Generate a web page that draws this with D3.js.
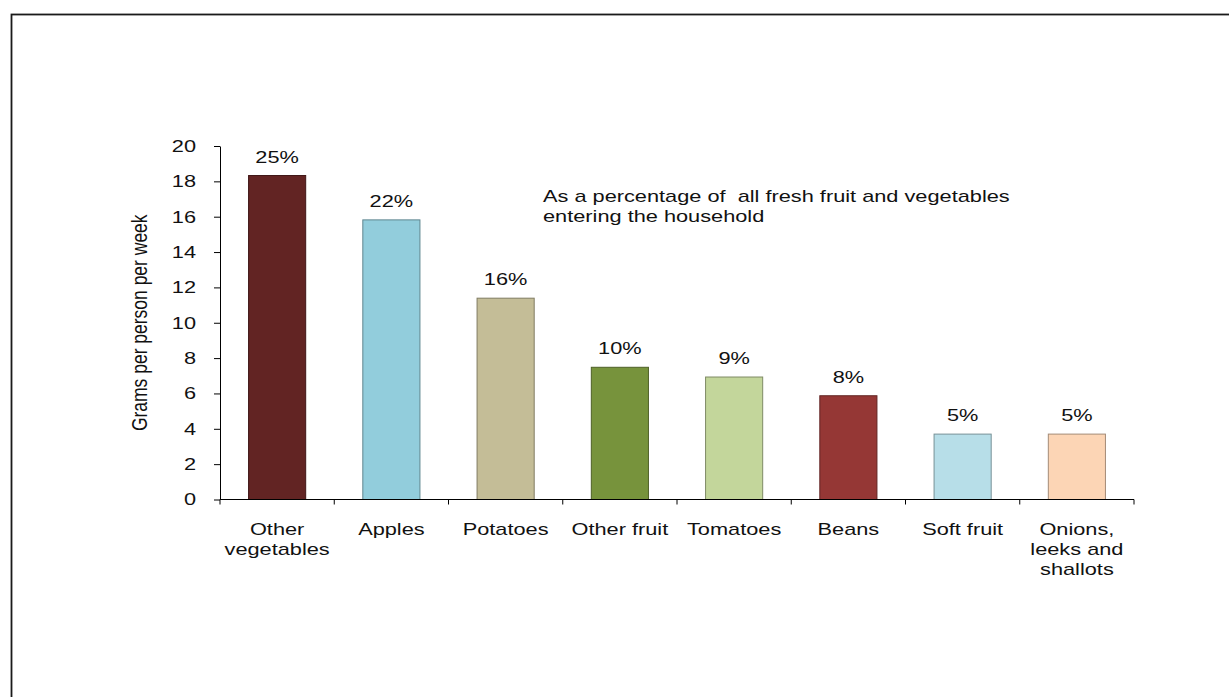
<!DOCTYPE html>
<html>
<head>
<meta charset="utf-8">
<script src="https://cdn.jsdelivr.net/npm/d3@7"></script>
<style>
  body { margin: 0; background: #fff; }
  svg { display: block; font-family: Arial, "Liberation Sans", sans-serif; }
</style>
</head>
<body>
<svg id="chart" width="1229" height="697"></svg>
<script>
// chart data
var categories = ["Other vegetables", "Apples", "Potatoes", "Other fruit", "Tomatoes", "Beans", "Soft fruit", "Onions, leeks and shallots"];
var grams = [18.33, 15.82, 11.39, 7.48, 6.93, 5.87, 3.70, 3.70];
var shares = ["25%", "22%", "16%", "10%", "9%", "8%", "5%", "5%"];
var yTicks = [0, 2, 4, 6, 8, 10, 12, 14, 16, 18, 20];

// label lines for categories
var catLines = {
    "Other vegetables": ["Other", "vegetables"],
    "Onions, leeks and shallots": ["Onions,", "leeks and", "shallots"]
};

var barColors = ["#622423", "#92CDDC", "#C4BD97", "#77933C", "#C3D69B", "#953735", "#B7DEE8", "#FCD5B5"];

// text in the original is stretched sideways
var stretch = "scale(1.28,1)";
var fontSize = "17px";

var svg = d3.select("#chart");

// outer frame
svg.append("rect")
    .attr("x", 11.5)
    .attr("y", 14.5)
    .attr("width", 1240)
    .attr("height", 700)
    .attr("fill", "none")
    .attr("stroke", "#1a1a1a")
    .attr("stroke-width", 1.8);

var plotLeft = 220, plotRight = 1134, plotTop = 146, plotBottom = 499.5;

var x = d3.scaleBand()
    .domain(categories)
    .range([plotLeft, plotRight])
    .paddingInner(0.5)
    .paddingOuter(0.25);

var y = d3.scaleLinear()
    .domain([0, 20])
    .range([plotBottom, plotTop]);

// bars
svg.selectAll("rect.bar")
    .data(categories)
    .enter()
    .append("rect")
    .attr("class", "bar")
    .attr("x", function (d) { return x(d); })
    .attr("y", function (d, i) { return y(grams[i]); })
    .attr("width", x.bandwidth())
    .attr("height", function (d, i) { return y(0) - y(grams[i]); })
    .attr("fill", function (d, i) { return barColors[i]; })
    .attr("stroke", function (d, i) { return d3.color(barColors[i]).darker(1.2); })
    .attr("stroke-width", 1);

// percentage labels
svg.selectAll("text.pct")
    .data(categories)
    .enter()
    .append("text")
    .attr("class", "pct")
    .attr("transform", function (d, i) {
        return "translate(" + (x(d) + x.bandwidth() / 2) + "," + (y(grams[i]) - 13) + ") " + stretch;
    })
    .attr("text-anchor", "middle")
    .style("font-size", fontSize)
    .style("fill", "#111")
    .text(function (d, i) { return shares[i]; });

// y axis
var yAxis = svg.append("g")
    .attr("transform", "translate(" + plotLeft + ",0)")
    .call(d3.axisLeft(y).tickValues(yTicks).tickSize(6).tickSizeOuter(0));
yAxis.select(".domain").attr("stroke", "#000");
yAxis.selectAll(".tick line").attr("stroke", "#000");
yAxis.selectAll(".tick text")
    .attr("x", 0)
    .attr("transform", "translate(-24,0) " + stretch)
    .style("font-size", fontSize)
    .style("font-family", "Arial, 'Liberation Sans', sans-serif")
    .attr("fill", "#111");

// x axis (ticks at band edges)
var xAxis = svg.append("g")
    .attr("transform", "translate(0," + plotBottom + ")");
xAxis.append("line")
    .attr("x1", plotLeft)
    .attr("x2", plotRight)
    .attr("stroke", "#000");
var step = x.step();
xAxis.selectAll("line.tk")
    .data(d3.range(categories.length + 1))
    .enter()
    .append("line")
    .attr("class", "tk")
    .attr("x1", function (i) { return plotLeft + i * step; })
    .attr("x2", function (i) { return plotLeft + i * step; })
    .attr("y1", 0)
    .attr("y2", 5)
    .attr("stroke", "#000");

// category labels
var catText = svg.selectAll("text.cat")
    .data(categories)
    .enter()
    .append("text")
    .attr("class", "cat")
    .attr("transform", function (d) {
        return "translate(" + (x(d) + x.bandwidth() / 2) + ",535) " + stretch;
    })
    .attr("text-anchor", "middle")
    .style("font-size", fontSize)
    .style("fill", "#111");

catText.selectAll("tspan")
    .data(function (d) { return catLines[d] || [d]; })
    .enter()
    .append("tspan")
    .attr("x", 0)
    .attr("y", function (d, i) { return i * 20; })
    .text(function (d) { return d; });

// y axis title
svg.append("text")
    .attr("transform", "translate(147," + (plotTop + plotBottom) / 2 + ") " + stretch + " rotate(-90)")
    .attr("text-anchor", "middle")
    .style("font-size", "17.5px")
    .style("fill", "#111")
    .text("Grams per person per week");

// annotation
var note = svg.append("text")
    .attr("transform", "translate(543,202) " + stretch)
    .style("font-size", fontSize)
    .style("fill", "#111");
note.append("tspan").attr("x", 0).attr("y", 0).attr("xml:space", "preserve").text("As a percentage of  all fresh fruit and vegetables");
note.append("tspan").attr("x", 0).attr("y", 20).text("entering the household");
</script>
</body>
</html>
